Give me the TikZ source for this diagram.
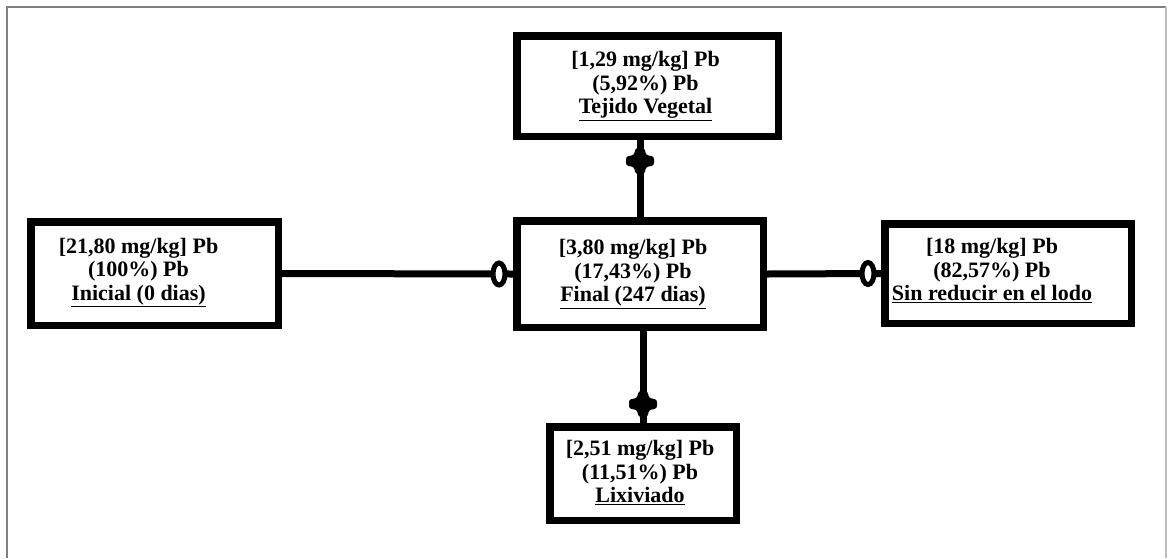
\documentclass[tikz,border=0pt]{standalone}
\usepackage{fontspec}
\setmainfont{Liberation Serif}
\usetikzlibrary{calc}
\tikzset{
  boxst/.style={draw=black, line width=7.5pt, fill=white, inner sep=0pt},
  txt/.style={font=\bfseries\fontsize{22}{23.5}\selectfont, align=center, inner sep=0pt},
  conn/.style={line width=7pt, black},
  framest/.style={line width=2pt, draw=black!50},
  crossmark/.pic={\fill[black, rounded corners=2.5pt] (-14,-4.5) -- (-6,-6) -- (-4.5,-13) -- (4.5,-13) -- (6,-6) -- (14,-4.5) -- (14,4.5) -- (6,6) -- (4.5,13) -- (-4.5,13) -- (-6,6) -- (-14,4.5) -- cycle;},
  ringmark/.pic={\draw[line width=5pt, black, fill=white] (0,0) ellipse [x radius=6pt, y radius=11pt];}
}
\begin{document}
\begin{tikzpicture}[x=1pt,y=-1pt]
\useasboundingbox (0,0) rectangle (1168,558);
\fill[white] (0,0) rectangle (1168,558);
% frame
\draw[framest] (7,558) -- (7,7) -- (1166,7);
\draw[line width=2pt, draw=black!25] (1166,7) -- (1166,558);
% boxes
\node[boxst, minimum width=247.5pt, minimum height=103.5pt] (l) at (154.5,273.5) {};
\node[boxst, minimum width=246.5pt, minimum height=106.5pt] (c) at (640,274) {};
\node[boxst, minimum width=261.5pt, minimum height=100.5pt] (t) at (647.5,86) {};
\node[boxst, minimum width=246.5pt, minimum height=99.5pt] (r) at (1008,273.5) {};
\node[boxst, minimum width=186.5pt, minimum height=93.5pt] (b) at (643,473.5) {};
% texts
\node[txt] (lt) at ($(l)+(-16,-1)$) {[21,80 mg/kg] Pb\\(100\%) Pb\\\underline{Inicial (0 dias)}};
\node[txt] (ct) at ($(c)+(-7,0)$) {[3,80 mg/kg] Pb\\(17,43\%) Pb\\\underline{Final (247 dias)}};
\node[txt] (tt) at ($(t)+(-2,0)$) {[1,29 mg/kg] Pb\\(5,92\%) Pb\\\underline{Tejido Vegetal}};
\node[txt] (rt) at ($(r)+(-16,-3)$) {[18 mg/kg] Pb\\(82,57\%) Pb\\\underline{Sin reducir en el lodo}};
\node[txt] (bt) at ($(b)+(-3,-1)$) {[2,51 mg/kg] Pb\\(11,51\%) Pb\\\underline{Lixiviado}};
% connectors
\draw[conn] (c.north) -- (c.north |- t.south);
\pic at ($(c.north |- t.south)+(0,21)$) {crossmark};
\draw[conn] (c.south -| b.north) -- (b.north);
\pic at ($(b.north)+(0,-19)$) {crossmark};
\draw[conn] (l.east) -- (c.west);
\pic at ($(c.west)+(-14,0)$) {ringmark};
\draw[conn] (c.east) -- (r.west);
\pic at ($(r.west)+(-13,0)$) {ringmark};
\end{tikzpicture}
\end{document}
